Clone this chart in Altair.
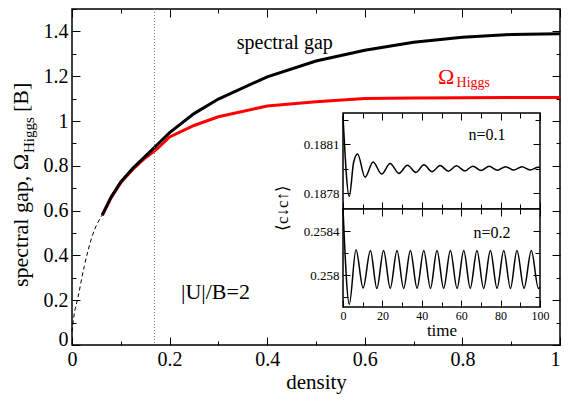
import altair as alt
import pandas as pd

# ---------------- main panel data ----------------
gap_density = [0.062, 0.08, 0.1, 0.125, 0.15, 0.175, 0.2, 0.25, 0.3, 0.4, 0.5, 0.6, 0.7, 0.8, 0.9, 1.0]
gap_value = [0.581, 0.66, 0.728, 0.79, 0.842, 0.895, 0.948, 1.033, 1.098, 1.197, 1.268, 1.316, 1.352, 1.374, 1.386, 1.39]
higgs_density = [0.062, 0.08, 0.1, 0.125, 0.15, 0.175, 0.2, 0.25, 0.3, 0.4, 0.5, 0.6, 0.7, 0.8, 0.9, 1.0]
higgs_value = [0.578, 0.657, 0.725, 0.785, 0.835, 0.877, 0.929, 0.98, 1.019, 1.067, 1.086, 1.1, 1.103, 1.104, 1.105, 1.105]
extrap_density = [0.0, 0.004, 0.012, 0.025, 0.042, 0.062]
extrap_value = [0.06, 0.13, 0.21, 0.35, 0.49, 0.581]
marker_density = [0.169]

x_tick_labels = [0, 0.2, 0.4, 0.6, 0.8, 1.0]
y_tick_labels = [0, 0.2, 0.4, 0.6, 0.8, 1.0, 1.2, 1.4]
x_ticks_all = [round(i * 0.1, 1) for i in range(11)]
y_ticks_all = [round(i * 0.1, 1) for i in range(16)]

# annotations (text, density, value, size, color)
ann_text = ["spectral gap", "|U|/B=2", "Ω", "Higgs"]
ann_d = [0.436, 0.294, 0.75, 0.788]
ann_v = [1.32, 0.207, 1.165, 1.153]
ann_size = [20, 22, 22, 14]
ann_color = ["black", "black", "red", "red"]
ann_align = ["center", "center", "left", "left"]

y_title_parts = ["spectral gap, Ω", "Higgs", "[B]"]

# ---------------- inset data ----------------
n01_t = [0, 3.2, 5.4, 7.4, 11.2, 15.3, 19.6, 23.9, 28.4, 32.7, 37.0, 41.1, 45.2, 49.3,
         53.5, 57.6, 61.8, 65.9, 70.1, 74.2, 78.4, 82.5, 86.7, 90.8, 95.0, 99.1, 100]
n01_v = [0.18827, 0.187782, 0.18799, 0.18804, 0.187898, 0.187992, 0.187918, 0.187982,
         0.187922, 0.187972, 0.187928, 0.187974, 0.187932, 0.18797, 0.187935, 0.187968,
         0.187937, 0.187966, 0.18794, 0.187965, 0.187941, 0.187963, 0.187942, 0.187962,
         0.187943, 0.18796, 0.187958]
n02_t = [0, 3.2, 6.6, 10.2, 13.9, 17.2, 20.6, 24.0, 27.4, 30.8, 34.2, 37.6, 41.0, 44.4,
         47.7, 51.1, 54.5, 57.9, 61.3, 64.6, 68.0, 71.4, 74.8, 78.2, 81.6, 85.0, 88.3,
         91.9, 95.6, 99.2, 100]
n02_v = [0.2586, 0.257736, 0.25823, 0.257882, 0.258222, 0.257878, 0.258224, 0.25788,
         0.258222, 0.257879, 0.258223, 0.257881, 0.258222, 0.257879, 0.258224, 0.25788,
         0.258222, 0.257879, 0.258223, 0.25788, 0.258222, 0.257879, 0.258224, 0.25788,
         0.258222, 0.257879, 0.258223, 0.25788, 0.258222, 0.257879, 0.25789]
inset_labels = ["n=0.1", "n=0.2"]
inset_label_t = [73.1, 75.6]
inset_label_v = [0.188125, 0.258334]
n01_domain = [0.187705, 0.18829]
n02_domain = [0.25771, 0.2586]
time_domain = [0, 100]
time_ticks = [0, 10, 20, 30, 40, 50, 60, 70, 80, 90, 100]
time_labels = [0, 20, 40, 60, 80, 100]
n01_ticks = [0.1878, 0.18795, 0.1881, 0.18825]
n01_label_ticks = [0.1878, 0.1881]
n02_ticks = [0.2578, 0.258, 0.2582, 0.2584]
n02_label_ticks = [0.258, 0.2584]
inset_ylabel = ["⟨c↓c↑⟩"]

# ---------------- layout ----------------
W, H = 488, 336
IX = [271, 468]
UP_RANGE = [200, 104]
LO_RANGE = [298, 200]
FONT = "Liberation Serif"


def sx():
    return alt.Scale(domain=[0, 1], nice=False, zero=False)


def sy():
    return alt.Scale(domain=[0, 1.5], nice=False, zero=False)


def tx():
    return alt.Scale(domain=time_domain, range=IX, nice=False, zero=False)


def uy():
    return alt.Scale(domain=n01_domain, range=UP_RANGE, nice=False, zero=False)


def ly():
    return alt.Scale(domain=n02_domain, range=LO_RANGE, nice=False, zero=False)


def tick_axis(orient, offset, values, expr):
    return alt.Axis(orient=orient, offset=offset, values=values, labels=False, domain=False,
                    ticks=True, tickSize=alt.ExprRef(expr=expr), tickColor="black", tickWidth=1,
                    grid=False, title=None, zindex=1)


MAIN_T = "round(datum.value*10) % 2 == 0 ? 8 : 4"
TIME_T = "round(datum.value/10) % 2 == 0 ? 7 : 5"
UP_T = "(abs(datum.value-0.1878) < 1e-7 || abs(datum.value-0.1881) < 1e-7) ? 7 : 5"
LO_T = "(abs(datum.value-0.258) < 1e-7 || abs(datum.value-0.2584) < 1e-7) ? 7 : 5"

gap_df = pd.DataFrame({"d": gap_density, "v": gap_value})
higgs_df = pd.DataFrame({"d": higgs_density, "v": higgs_value})
extrap_df = pd.DataFrame({"d": extrap_density, "v": extrap_value})
marker_df = pd.DataFrame({"d": marker_density})
ann_df = pd.DataFrame({"txt": ann_text, "d": ann_d, "v": ann_v})
n01_df = pd.DataFrame({"t": n01_t, "v": n01_v})
n02_df = pd.DataFrame({"t": n02_t, "v": n02_v})

x_label_axis = alt.Axis(orient="bottom", values=x_tick_labels, format=".1~f", ticks=False,
                        domain=False, labelFontSize=20, labelPadding=4, labelFlush=False,
                        labelAlign=alt.ExprRef(expr="datum.value == 1 ? 'right' : 'center'"),
                        title="density", titleFontSize=21, titlePadding=2, zindex=1)
y_label_axis = alt.Axis(orient="left", values=y_tick_labels, format=".1~f", ticks=False,
                        domain=False, labelFontSize=20, labelPadding=4, title=None, zindex=1,
                        labelBaseline=alt.ExprRef(expr="datum.value == 0 ? 'alphabetic' : 'middle'"))

higgs_line = alt.Chart(higgs_df).mark_line(color="red", strokeWidth=3).encode(
    x=alt.X("d:Q", scale=sx(), axis=tick_axis("top", -H, x_ticks_all, MAIN_T)),
    y=alt.Y("v:Q", scale=sy(), axis=tick_axis("right", -W, y_ticks_all, MAIN_T)),
)
gap_line = alt.Chart(gap_df).mark_line(color="black", strokeWidth=3).encode(
    x=alt.X("d:Q", scale=sx(), axis=x_label_axis),
    y=alt.Y("v:Q", scale=sy(), axis=y_label_axis),
)
extrap_line = alt.Chart(extrap_df).mark_line(color="black", strokeWidth=1, strokeDash=[4, 3],
                                             interpolate="monotone").encode(
    x=alt.X("d:Q", scale=sx(), axis=tick_axis("bottom", -H, x_ticks_all, MAIN_T)),
    y=alt.Y("v:Q", scale=sy(), axis=tick_axis("left", -W, y_ticks_all, MAIN_T)),
)
marker_rule = alt.Chart(marker_df).mark_rule(color="#888888", strokeWidth=1, strokeDash=[1, 2]).encode(
    x=alt.X("d:Q", scale=sx(), axis=None),
)

ann_layers = []
for i in range(len(ann_text)):
    sub = ann_df.iloc[[i]]
    ann_layers.append(
        alt.Chart(sub).mark_text(font=FONT, fontSize=ann_size[i], color=ann_color[i],
                                 align=ann_align[i], baseline="alphabetic").encode(
            x=alt.X("d:Q", scale=sx(), axis=None),
            y=alt.Y("v:Q", scale=sy(), axis=None),
            text="txt:N",
        )
    )

# y-axis title composed of pieces (with subscript)
yt_df = pd.DataFrame({"txt": y_title_parts})
yt_x = [-44, -38, -44]
yt_y = [278, 144, 103]
yt_size = [22, 15, 22]
yt_layers = []
for i in range(3):
    yt_layers.append(
        alt.Chart(yt_df.iloc[[i]]).mark_text(font=FONT, fontSize=yt_size[i], angle=270,
                                             align="left", baseline="alphabetic", color="black").encode(
            x=alt.value(yt_x[i]), y=alt.value(yt_y[i]), text="txt:N")
    )

# ---------------- inset ----------------
up_frame_df = pd.DataFrame({"t": [time_domain[0]], "t2": [time_domain[1]],
                            "v": [n01_domain[0]], "v2": [n01_domain[1]]})
lo_frame_df = pd.DataFrame({"t": [time_domain[0]], "t2": [time_domain[1]],
                            "v": [n02_domain[0]], "v2": [n02_domain[1]]})

up_frame = alt.Chart(up_frame_df).mark_rect(fill="white", stroke="black", strokeWidth=1.5).encode(
    x=alt.X("t:Q", scale=tx(), axis=tick_axis("bottom", UP_RANGE[1] - H, time_ticks, TIME_T)),
    x2="t2:Q",
    y=alt.Y("v:Q", scale=uy(), axis=tick_axis("right", IX[0] - W, n01_ticks, UP_T)),
    y2="v2:Q",
)
lo_frame = alt.Chart(lo_frame_df).mark_rect(fill="white", stroke="black", strokeWidth=1.5).encode(
    x=alt.X("t:Q", scale=tx(), axis=tick_axis("bottom", LO_RANGE[1] - H, time_ticks, TIME_T)),
    x2="t2:Q",
    y=alt.Y("v:Q", scale=ly(), axis=tick_axis("right", IX[0] - W, n02_ticks, LO_T)),
    y2="v2:Q",
)

up_line = alt.Chart(n01_df).mark_line(color="black", strokeWidth=1.5, interpolate="monotone").encode(
    x=alt.X("t:Q", scale=tx(), axis=tick_axis("top", -UP_RANGE[0], time_ticks, TIME_T)),
    y=alt.Y("v:Q", scale=uy(), axis=alt.Axis(orient="left", offset=-IX[0], values=n01_label_ticks,
                                             format=".4f", ticks=False, domain=False, labelFontSize=13,
                                             labelPadding=4, title=None, zindex=1)),
)
lo_line = alt.Chart(n02_df).mark_line(color="black", strokeWidth=1.5, interpolate="monotone").encode(
    x=alt.X("t:Q", scale=tx(), axis=tick_axis("top", -LO_RANGE[0], time_ticks, TIME_T)),
    y=alt.Y("v:Q", scale=ly(), axis=alt.Axis(orient="left", offset=-IX[0], values=n02_label_ticks,
                                             format=".4~f", ticks=False, domain=False, labelFontSize=13,
                                             labelPadding=4, title=None, zindex=1)),
)

inset_lab_df = pd.DataFrame({"txt": inset_labels, "t": inset_label_t, "v": inset_label_v})
up_text = alt.Chart(inset_lab_df.iloc[[0]]).mark_text(font=FONT, fontSize=16, baseline="alphabetic").encode(
    x=alt.X("t:Q", scale=tx(), axis=None),
    y=alt.Y("v:Q", scale=uy(), axis=tick_axis("left", -IX[1], n01_ticks, UP_T)),
    text="txt:N",
)
lo_text = alt.Chart(inset_lab_df.iloc[[1]]).mark_text(font=FONT, fontSize=16, baseline="alphabetic").encode(
    x=alt.X("t:Q", scale=tx(), axis=alt.Axis(orient="bottom", offset=LO_RANGE[0] - H, values=time_labels,
                                             format="d", ticks=False, domain=False, labelFontSize=12,
                                             labelPadding=3, labelFlush=False, title="time",
                                             titleFontSize=17, titlePadding=1, zindex=1)),
    y=alt.Y("v:Q", scale=ly(), axis=tick_axis("left", -IX[1], n02_ticks, LO_T)),
    text="txt:N",
)
ylab_df = pd.DataFrame({"txt": inset_ylabel})
inset_ylab = alt.Chart(ylab_df).mark_text(font=FONT, fontSize=17, angle=270, align="center",
                                          baseline="middle", color="black").encode(
    x=alt.value(IX[0] - 60), y=alt.value(199), text="txt:N")

layers = [higgs_line, gap_line, extrap_line, marker_rule] + ann_layers + yt_layers + \
         [up_frame, lo_frame, up_line, lo_line, up_text, lo_text, inset_ylab]

chart = alt.layer(*layers).resolve_scale(
    x="independent", y="independent"
).resolve_axis(
    x="independent", y="independent"
).properties(
    width=W, height=H, autosize="none",
    padding={"left": 64, "top": 1, "right": 1, "bottom": 49},
).configure_view(
    stroke="black", strokeWidth=1.5
).configure_axis(
    grid=False, labelFont=FONT, titleFont=FONT, labelColor="black", titleColor="black",
    tickColor="black", domainColor="black", titleFontWeight="normal",
)

chart.save("out.html", embed_options={"renderer": "svg", "actions": False})
